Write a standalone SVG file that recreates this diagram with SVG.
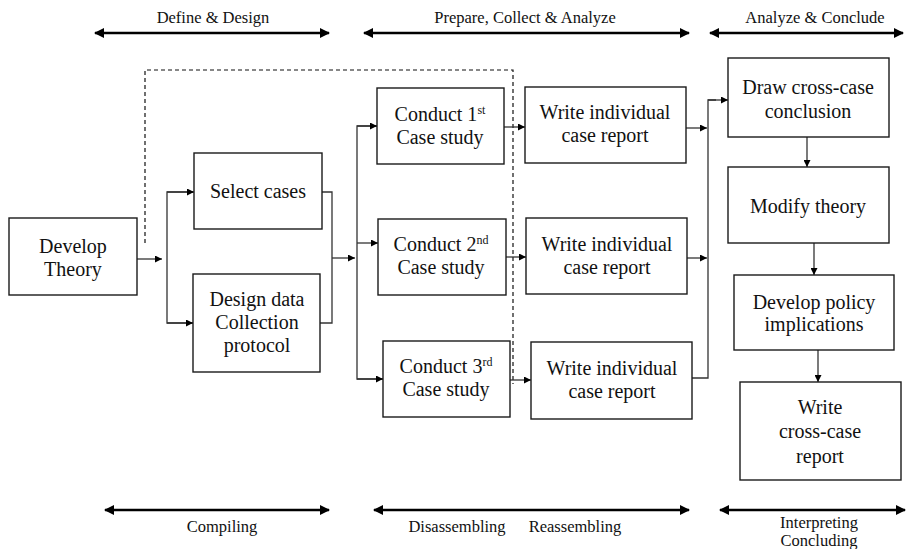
<svg xmlns="http://www.w3.org/2000/svg" width="906" height="549" viewBox="0 0 906 549">
<defs>
<style>
.box{fill:#fff;stroke:#1a1a1a;stroke-width:1.4}
text{font-family:'Liberation Serif','DejaVu Serif',serif;fill:#111;text-anchor:middle}
.t{font-size:20px}
.lab{font-size:16.5px}
.sup{font-size:12px}
.c{fill:none;stroke:#333;stroke-width:1.3}
.d{fill:none;stroke:#111;stroke-width:1.2;stroke-dasharray:4 3}
.ph{fill:none;stroke:#000;stroke-width:2.6}
</style>
<marker id="a" viewBox="0 0 10 10" refX="10" refY="5" markerWidth="7" markerHeight="7" markerUnits="userSpaceOnUse" orient="auto"><path d="M0,0 L10,5 L0,10 z" fill="#000"/></marker>
<marker id="h" viewBox="0 0 10 10" refX="9" refY="5" markerWidth="10" markerHeight="10" markerUnits="userSpaceOnUse" orient="auto-start-reverse"><path d="M0,0 L10,5 L0,10 z" fill="#000"/></marker>
</defs>

<g id="phases">
<text class="lab" x="213" y="23">Define &amp; Design</text>
<line class="ph" x1="95" y1="33" x2="329" y2="33" marker-start="url(#h)" marker-end="url(#h)"/>
<text class="lab" x="525" y="23">Prepare, Collect &amp; Analyze</text>
<line class="ph" x1="364" y1="33" x2="689" y2="33" marker-start="url(#h)" marker-end="url(#h)"/>
<text class="lab" x="815" y="23">Analyze &amp; Conclude</text>
<line class="ph" x1="710" y1="33" x2="903" y2="33" marker-start="url(#h)" marker-end="url(#h)"/>
<line class="ph" x1="105" y1="510" x2="329" y2="510" marker-start="url(#h)" marker-end="url(#h)"/>
<text class="lab" x="222" y="532">Compiling</text>
<line class="ph" x1="374" y1="510" x2="689" y2="510" marker-start="url(#h)" marker-end="url(#h)"/>
<text class="lab" x="457" y="532">Disassembling</text>
<text class="lab" x="575" y="532">Reassembling</text>
<line class="ph" x1="720" y1="510" x2="905" y2="510" marker-start="url(#h)" marker-end="url(#h)"/>
<text class="lab" x="819" y="528">Interpreting</text>
<text class="lab" x="819" y="546">Concluding</text>
</g>

<g id="connectors">
<path class="d" d="M145,243 V70 H513 V384"/>
<line class="c" x1="137" y1="259" x2="162" y2="259" marker-end="url(#a)"/>
<path class="c" d="M193,192 H167 V323 H193" />
<line class="c" x1="167" y1="192" x2="194" y2="192" marker-end="url(#a)"/>
<line class="c" x1="167" y1="323" x2="193" y2="323" marker-end="url(#a)"/>
<path class="c" d="M322,192 H332 V323 H320"/>
<line class="c" x1="332" y1="258" x2="355" y2="258" marker-end="url(#a)"/>
<path class="c" d="M377,126 H357 V379 H383"/>
<line class="c" x1="357" y1="126" x2="377" y2="126" marker-end="url(#a)"/>
<line class="c" x1="357" y1="243" x2="378" y2="243" marker-end="url(#a)"/>
<line class="c" x1="357" y1="379" x2="383" y2="379" marker-end="url(#a)"/>
<line class="c" x1="504" y1="127" x2="525" y2="127" marker-end="url(#a)"/>
<line class="c" x1="506" y1="257" x2="526" y2="257" marker-end="url(#a)"/>
<line class="c" x1="510" y1="380" x2="531" y2="380" marker-end="url(#a)"/>
<line class="c" x1="686" y1="128" x2="707" y2="128" marker-end="url(#a)"/>
<line class="c" x1="687" y1="258" x2="707" y2="258" marker-end="url(#a)"/>
<path class="c" d="M692,378 H708 V100 H716"/>
<line class="c" x1="708" y1="100" x2="728" y2="100" marker-end="url(#a)"/>
<line class="c" x1="807" y1="137" x2="807" y2="167" marker-end="url(#a)"/>
<line class="c" x1="814" y1="243" x2="814" y2="275" marker-end="url(#a)"/>
<line class="c" x1="818" y1="350" x2="818" y2="382" marker-end="url(#a)"/>
</g>

<g id="develop-theory"><rect class="box" x="9" y="218" width="128" height="77"/>
<text class="t" x="73" y="253">Develop</text><text class="t" x="73" y="276">Theory</text></g>

<g id="select-cases"><rect class="box" x="194" y="153" width="128" height="76"/>
<text class="t" x="258" y="198">Select cases</text></g>

<g id="design-protocol"><rect class="box" x="193" y="274" width="127" height="98"/>
<text class="t" x="257" y="306">Design data</text><text class="t" x="257" y="329">Collection</text><text class="t" x="257" y="352">protocol</text></g>

<g id="conduct-1"><rect class="box" x="377" y="88" width="127" height="76"/>
<text class="t" x="440" y="121">Conduct 1<tspan class="sup" dy="-7">st</tspan></text><text class="t" x="440" y="144">Case study</text></g>

<g id="conduct-2"><rect class="box" x="378" y="219" width="128" height="76"/>
<text class="t" x="441" y="251">Conduct 2<tspan class="sup" dy="-7">nd</tspan></text><text class="t" x="441" y="274">Case study</text></g>

<g id="conduct-3"><rect class="box" x="383" y="341" width="127" height="76"/>
<text class="t" x="446" y="373">Conduct 3<tspan class="sup" dy="-7">rd</tspan></text><text class="t" x="446" y="396">Case study</text></g>

<g id="write-1"><rect class="box" x="525" y="87" width="161" height="76"/>
<text class="t" x="605" y="119">Write individual</text><text class="t" x="605" y="142">case report</text></g>

<g id="write-2"><rect class="box" x="526" y="218" width="161" height="76"/>
<text class="t" x="607" y="251">Write individual</text><text class="t" x="607" y="274">case report</text></g>

<g id="write-3"><rect class="box" x="531" y="342" width="161" height="77"/>
<text class="t" x="612" y="375">Write individual</text><text class="t" x="612" y="398">case report</text></g>

<g id="draw-conclusion"><rect class="box" x="728" y="58" width="161" height="79"/>
<text class="t" x="808" y="94">Draw cross-case</text><text class="t" x="808" y="118">conclusion</text></g>

<g id="modify-theory"><rect class="box" x="728" y="167" width="161" height="76"/>
<text class="t" x="808" y="213">Modify theory</text></g>

<g id="policy-implications"><rect class="box" x="734" y="275" width="160" height="75"/>
<text class="t" x="814" y="309">Develop policy</text><text class="t" x="814" y="331">implications</text></g>

<g id="cross-case-report"><rect class="box" x="740" y="382" width="161" height="98"/>
<text class="t" x="820" y="414">Write</text><text class="t" x="820" y="438">cross-case</text><text class="t" x="820" y="463">report</text></g>
</svg>
